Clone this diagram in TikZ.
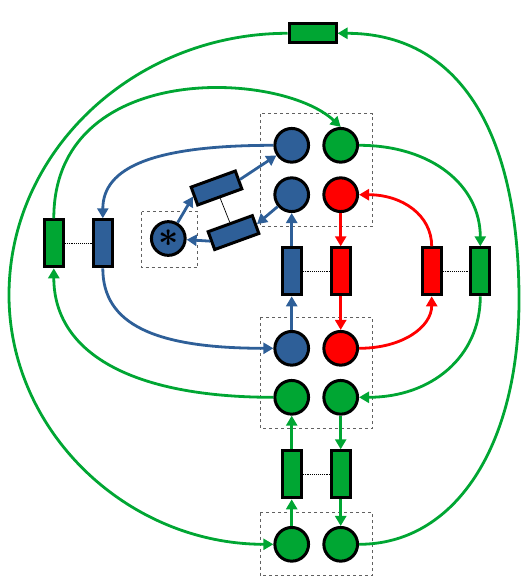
\documentclass[tikz,border=0pt]{standalone}
\usepackage{graphicx}
\usetikzlibrary{arrows.meta}
\definecolor{pnblue}{RGB}{46,95,152}
\definecolor{pngreen}{RGB}{0,166,51}
\definecolor{pnred}{RGB}{255,0,0}
\begin{document}
\begin{tikzpicture}[x=1pt,y=-1pt,
  place/.style={circle, draw=black, line width=3pt, minimum size=33.7pt, inner sep=0pt},
  trans/.style={rectangle, draw=black, line width=3pt, minimum width=19pt, minimum height=47pt, inner sep=0pt},
  htrans/.style={trans, minimum width=47pt, minimum height=19pt},
  arc/.style={line width=2.8pt, -{Triangle[length=10pt,width=11pt]}},
  grp/.style={draw=black!62, dashed, line width=1pt},
  link/.style={densely dotted, line width=0.9pt}]
\useasboundingbox (0,0) rectangle (525,585);
% groups
\draw[grp] (260,114) rectangle (372.5,226);
\draw[grp] (260,317.3) rectangle (372.5,428.3);
\draw[grp] (260,512.5) rectangle (372.5,575.5);
\draw[grp] (141.7,211.7) rectangle (197.7,267.7);
% places
\node[place, fill=pnblue] (B1) at (291.7,145.3) {};
\node[place, fill=pngreen] (G1) at (340.7,145.3) {};
\node[place, fill=pnblue] (B2) at (291.7,194.7) {};
\node[place, fill=pnred] (R1) at (340.7,194.7) {};
\node[place, fill=pnblue] (B3) at (291.7,348.3) {};
\node[place, fill=pnred] (R2) at (340.7,348.3) {};
\node[place, fill=pngreen] (G2) at (291.7,397.3) {};
\node[place, fill=pngreen] (G3) at (340.7,397.3) {};
\node[place, fill=pngreen] (G4) at (291.7,544.3) {};
\node[place, fill=pngreen] (G5) at (340.7,544.3) {};
\node[place, fill=pnblue] (A) at (168.3,238.5) {\scalebox{1.7}{\huge\boldmath$\ast$}};
% transitions
\node[trans, fill=pnblue] (TB) at (291.7,271.3) {};
\node[trans, fill=pnred] (TR) at (340.7,271.3) {};
\node[trans, fill=pnred] (TR2) at (431.7,271.3) {};
\node[trans, fill=pngreen] (TG2) at (480.3,271.3) {};
\node[trans, fill=pngreen] (TGL) at (53.8,243.3) {};
\node[trans, fill=pnblue] (TBL) at (102.8,243.3) {};
\node[trans, fill=pngreen] (TG3) at (291.7,474.3) {};
\node[trans, fill=pngreen] (TG4) at (340.7,474.3) {};
\node[htrans, fill=pngreen] (TTop) at (312.5,33.3) {};
\node[htrans, fill=pnblue, rotate=20] (UR) at (216.5,188) {};
\node[htrans, fill=pnblue, rotate=20] (LR) at (233.5,232.6) {};
% links between paired transitions
\draw[link] (TB.east) -- (TR.west);
\draw[link] (TGL.east) -- (TBL.west);
\draw[link] (TR2.east) -- (TG2.west);
\draw[link] (TG3.east) -- (TG4.west);
\draw[line width=0.7pt] (UR.south) -- (LR.north);
% straight arcs
\draw[arc, pnred] (R1) -- (TR);
\draw[arc, pnred] (TR) -- (R2);
\draw[arc, pnblue] (B3) -- (TB);
\draw[arc, pnblue] (TB) -- (B2);
\draw[arc, pngreen] (G4) -- (TG3);
\draw[arc, pngreen] (TG3) -- (G2);
\draw[arc, pngreen] (G3) -- (TG4);
\draw[arc, pngreen] (TG4) -- (G5);
% tilted arcs
\draw[arc, pnblue] (A) -- (UR.west);
\draw[arc, pnblue] (UR.east) -- (B1);
\draw[arc, pnblue] (B2) -- (LR.east);
\draw[arc, pnblue] (LR.west) -- (A);
% curved arcs
\coordinate (ER) at (519,300);
\coordinate (EL) at (9,295);
\draw[arc, pngreen] (G5.east) .. controls (455,544.3) and (519,446) .. (ER)
   .. controls (519,126.4) and (455.6,33.3) .. (TTop.east);
\draw[arc, pngreen] (TTop.west) .. controls (134.3,33.3) and (9,151) .. (EL)
   .. controls (9,432) and (127.8,544.3) .. (G4.west);
\draw[arc, pngreen] (TGL.north) .. controls (53.8,60) and (280,70) .. (G1.north);
\draw[arc, pngreen] (G2.west) .. controls (130,397.3) and (53.8,352) .. (TGL.south);
\draw[arc, pnblue] (B1.west) .. controls (154,145.3) and (102.8,167) .. (TBL.north);
\draw[arc, pnblue] (TBL.south) .. controls (102.8,324) and (154,348.3) .. (B3.west);
\draw[arc, pngreen] (G1.east) .. controls (431.7,145.3) and (480.3,185.5) .. (TG2.north);
\draw[arc, pngreen] (TG2.south) .. controls (480.3,356.6) and (431.7,397.3) .. (G3.east);
\draw[arc, pnred] (R2.east) .. controls (402.5,348.3) and (431.7,327) .. (TR2.south);
\draw[arc, pnred] (TR2.north) .. controls (431.7,215.3) and (402.5,194.7) .. (R1.east);
\end{tikzpicture}
\end{document}
